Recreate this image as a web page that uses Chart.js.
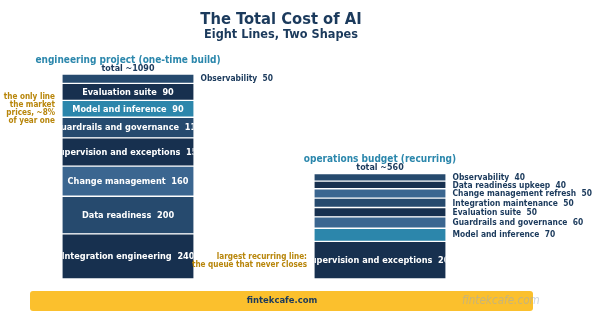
<!DOCTYPE html>
<html>
<head>
<meta charset="utf-8">
<script src="https://cdn.jsdelivr.net/npm/chart.js@4"></script>
<style>
  html, body { margin: 0; padding: 0; background: #fff; }
  #wrap { width: 600px; height: 322px; }
</style>
</head>
<body>
<div id="wrap"><canvas id="costChart" width="600" height="322"></canvas></div>
<script>
// two stacks: one-time build vs recurring run
var groups = ['engineering project (one-time build)', 'operations budget (recurring)'];
var totals = ['total ~1090', 'total ~560'];

// bottom to top
var buildItems = ['Integration engineering', 'Data readiness', 'Change management', 'Supervision and exceptions',
                  'Guardrails and governance', 'Model and inference', 'Evaluation suite', 'Observability'];
var buildValues = [240, 200, 160, 150, 110, 90, 90, 50];

var runItems = ['Supervision and exceptions', 'Model and inference', 'Guardrails and governance', 'Evaluation suite',
                'Integration maintenance', 'Change management refresh', 'Data readiness upkeep', 'Observability'];
var runValues = [200, 70, 60, 50, 50, 50, 40, 40];

var leftNote = ['the only line', 'the market', 'prices, ~8%', 'of year one'];
var rightNote = ['largest recurring line:', 'the queue that never closes'];

var navy = '#17304f', mid = '#264a6e', light = '#3b6690', teal = '#2c86ab';
var buildColors = [navy, mid, light, navy, mid, teal, navy, mid];
var runColors = [navy, teal, light, navy, mid, light, navy, mid];

var ink = '#1b3a5c';
var FONT = '"DejaVu Sans Condensed", "DejaVu Sans", sans-serif';

var datasets = [];
buildItems.forEach(function (name, i) {
    datasets.push({ label: name, data: [buildValues[i], null], backgroundColor: buildColors[i] });
});
runItems.forEach(function (name, i) {
    datasets.push({ label: name, data: [null, runValues[i]], backgroundColor: runColors[i] });
});
datasets.forEach(function (ds) {
    ds.stack = 's';
    ds.borderColor = '#ffffff';
    ds.borderWidth = { top: 1, bottom: 1, left: 0, right: 0 };
    ds.borderSkipped = false;
    ds.barThickness = 131;
});

var textPlugin = {
    id: 'textPlugin',
    beforeDraw: function (chart) {
        var ctx = chart.ctx;
        ctx.save();
        ctx.fillStyle = '#ffffff';
        ctx.fillRect(0, 0, chart.width, chart.height);
        ctx.restore();
    },
    afterDatasetsDraw: function (chart) {
        var ctx = chart.ctx;
        chart.data.datasets.forEach(function (ds, di) {
            var meta = chart.getDatasetMeta(di);
            ds.data.forEach(function (v, j) {
                if (v == null) return;
                var bar = meta.data[j];
                var p = bar.getProps(['x', 'y', 'base', 'width'], true);
                var cy = (p.y + p.base) / 2;
                var txt = ds.label + '  ' + v;
                ctx.save();
                ctx.textBaseline = 'middle';
                if (v >= 80) {
                    ctx.beginPath();
                    ctx.rect(p.x - p.width / 2, p.y, p.width, p.base - p.y);
                    ctx.clip();
                    ctx.fillStyle = '#ffffff';
                    ctx.font = 'bold 9.1px ' + FONT;
                    ctx.textAlign = 'center';
                    ctx.fillText(txt, p.x, cy + 0.5);
                } else {
                    ctx.fillStyle = ink;
                    ctx.font = 'bold 8.4px ' + FONT;
                    ctx.textAlign = 'left';
                    ctx.fillText(txt, p.x + p.width / 2 + 7, cy + 0.5);
                }
                ctx.restore();
            });
        });
    },
    afterDraw: function (chart) {
        var ctx = chart.ctx;
        var xs = chart.scales.x, ys = chart.scales.y;
        var sums = [buildValues.reduce(function (a, b) { return a + b; }, 0),
                    runValues.reduce(function (a, b) { return a + b; }, 0)];
        ctx.save();
        ctx.textBaseline = 'middle';
        ctx.textAlign = 'center';

        ctx.fillStyle = ink;
        ctx.font = 'bold 16.4px ' + FONT;
        ctx.fillText('The Total Cost of AI', 281, 19.5);
        ctx.font = 'bold 12.6px ' + FONT;
        ctx.fillText('Eight Lines, Two Shapes', 281, 35);

        groups.forEach(function (g, i) {
            var cx = xs.getPixelForValue(i);
            var top = ys.getPixelForValue(sums[i]);
            ctx.fillStyle = '#2b87ac';
            ctx.font = 'bold 10px ' + FONT;
            ctx.fillText(g, cx, top - 14);
            ctx.fillStyle = ink;
            ctx.font = 'bold 8.9px ' + FONT;
            ctx.fillText(totals[i], cx, top - 5.5);
        });

        ctx.fillStyle = '#b8860b';
        ctx.font = 'bold 8.1px ' + FONT;
        ctx.textAlign = 'right';
        leftNote.forEach(function (t, i) { ctx.fillText(t, 55, 97 + i * 8); });
        rightNote.forEach(function (t, i) { ctx.fillText(t, 307, 256.5 + i * 8); });

        // footer band
        ctx.fillStyle = '#fbc02d';
        ctx.beginPath();
        ctx.roundRect(30, 291, 503, 20, 3);
        ctx.fill();
        ctx.fillStyle = ink;
        ctx.textAlign = 'center';
        ctx.font = 'bold 9.4px ' + FONT;
        ctx.fillText('fintekcafe.com', 282, 301);
        ctx.fillStyle = 'rgba(150, 170, 195, 0.5)';
        ctx.font = 'italic 11.6px ' + FONT;
        ctx.textAlign = 'left';
        ctx.fillText('fintekcafe.com', 462, 301);
        ctx.restore();
    }
};

var myChart = new Chart(document.getElementById('costChart'), {
    type: 'bar',
    data: { labels: groups, datasets: datasets },
    options: {
        responsive: false,
        animation: false,
        layout: { padding: { left: 2, right: 94, top: 74, bottom: 43 } },
        scales: {
            x: { stacked: true, display: false },
            y: { stacked: true, display: false, min: 0, max: 1090 }
        },
        plugins: { legend: { display: false }, tooltip: { enabled: false }, title: { display: false } }
    },
    plugins: [textPlugin]
});
</script>
</body>
</html>
